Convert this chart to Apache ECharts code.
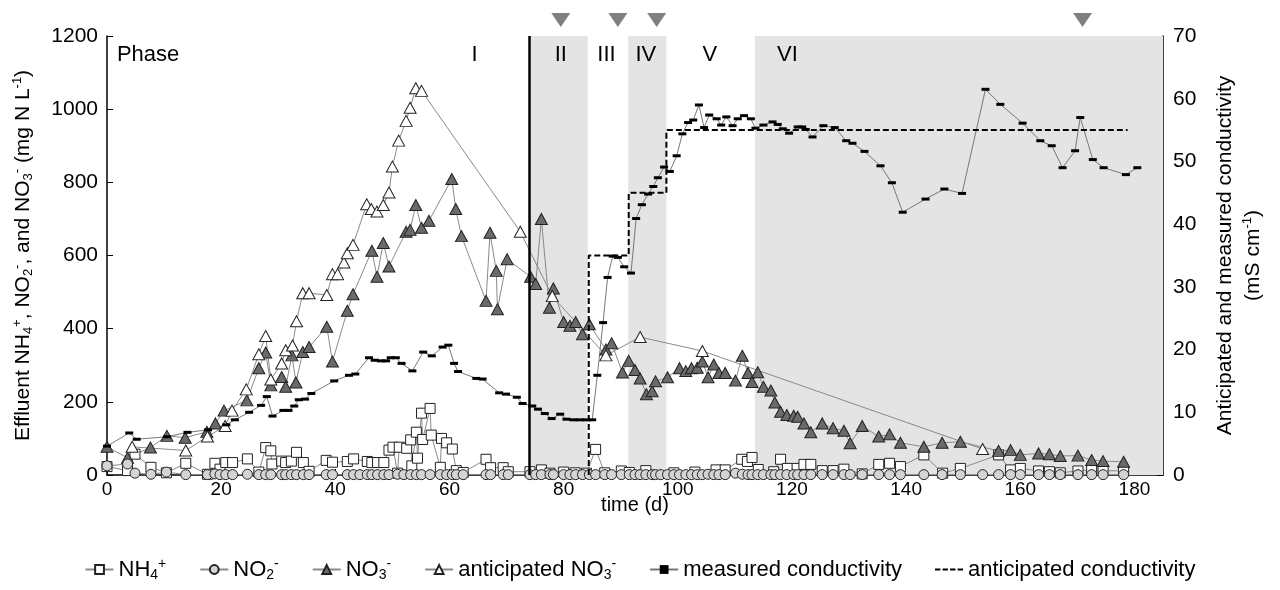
<!DOCTYPE html>
<html>
<head>
<meta charset="utf-8">
<script src="https://cdn.jsdelivr.net/npm/echarts@6/dist/echarts.min.js"></script>
<style>
html, body { margin: 0; padding: 0; background: #fff; }
#chart { width: 1280px; height: 590px; }
</style>
</head>
<body>
<div id="chart"></div>
<script>
// [day, mg N/L]
var nh4 = [[0,23],[3.6,12],[4.9,57],[7.7,21],[10.4,6],[13.8,32],[17.6,2],[18.9,32],[19.8,16],[20.8,34],[22,34],[24.6,44],[26.6,8],[27.8,75],[28.7,66],[28.9,30],[30.6,38],[31.3,34],[32.3,38],[33.2,62],[34.4,34],[35.4,10],[38.4,40],[39.5,35],[42.1,37],[43.2,44],[45.6,37],[46.4,34],[47.4,34],[48.5,34],[49.4,68],[50.1,76],[50.9,5],[51.2,76],[52.5,73],[53.2,96],[53.4,25],[54.2,117],[54.4,46],[55.1,169],[55.3,97],[56.6,182],[56.8,109],[58.4,21],[58.6,100],[59.5,88],[60.5,71],[61.2,12],[62.4,7],[66.4,43],[67.2,20],[69.4,20],[70.3,9],[74.1,9],[76.1,14],[77.6,5],[80,8],[82,6],[84,5],[85.6,70],[87.2,6],[90.1,11],[91.5,7],[94.4,12],[99.3,6],[103,8],[106.7,14],[108.3,14],[111.2,43],[112.2,37],[113,48],[114.1,15],[116.8,9],[118,43],[119.2,18],[120.9,18],[122.1,29],[123.3,29],[125.3,12],[127.2,12],[129.1,16],[132.3,3],[135.2,29],[137.1,32],[139,23],[143.1,55],[146.4,5],[149.5,18],[156.2,55],[158.3,14],[160,18],[163.2,11],[165.1,9],[167,6],[170.1,11],[172.5,14],[174.5,12],[178.1,11]];
var no2 = [[0,25],[3.6,30],[4.9,5],[7.7,2],[10.4,8],[13.8,1],[17.6,1],[18.9,3],[19.8,1],[20.8,1],[22,1],[24.6,2],[26.6,1],[27.8,1],[28.7,1],[30.6,1],[31.3,1],[32.3,1],[33.2,1],[34.4,1],[35.4,1],[38.4,1],[39.5,1],[42.1,1],[43.2,1],[44.3,1],[45.6,1],[46.4,1],[47.4,1],[48.5,1],[49.4,1],[50.9,2],[52,1],[53.2,1],[54.2,1],[55.1,1],[56.6,1],[58.4,1],[59.5,1],[60.5,1],[61.2,1],[62.4,1],[66.4,1],[67.2,1],[69.4,1],[70.3,1],[74.1,1],[75.1,1],[76.1,1],[77.6,1],[78.2,1],[80,1],[81.1,1],[82.1,1],[83.3,1],[84.5,1],[85.6,1],[87.2,1],[88.4,1],[90.1,1],[91.5,1],[92.5,1],[93.4,1],[94.4,1],[95.5,1],[96.1,1],[97,1],[98.2,1],[99.3,1],[100.3,1],[101.4,1],[102.4,1],[103.4,1],[104.3,1],[105.3,2],[106.3,1],[107.2,1],[108.3,1],[110.1,5],[111.3,2],[112.3,1],[113,1],[114,1],[115,1],[116.3,1],[117,1],[118,1],[119.1,1],[120.3,1],[121,1],[122.1,1],[123.3,1],[125.3,1],[127.2,1],[129.1,1],[130.2,1],[132.3,1],[135.2,1],[137.1,1],[139,1],[143.1,1],[146.3,1],[149.5,1],[153.4,1],[156.2,1],[158.3,1],[160,1],[163.2,1],[165.1,1],[167,1],[170.1,1],[172.5,1],[174.5,1],[178.1,1]];
var no3 = [[0,77],[3.6,47],[7.6,75],[10.5,107],[13.7,102],[17.5,118],[19,141],[20.5,176],[24.5,204],[26.6,292],[27.8,335],[28.7,245],[30.6,268],[31.3,241],[32.4,327],[33.1,253],[34.3,336],[35.4,350],[38.5,405],[39.5,310],[42.1,449],[43.1,494],[46.4,613],[47.3,542],[48.4,634],[49.4,570],[52.4,665],[53.1,670],[54.1,738],[55.1,676],[56.4,695],[60.4,809],[61.1,727],[62.1,653],[66.4,476],[67.1,662],[68.2,558],[68.4,453],[70.1,590],[74.2,542],[75.1,522],[76.1,700],[77.5,457],[78.2,510],[80,418],[81.1,408],[82.1,418],[83.3,385],[84.5,412],[87.4,343],[88.4,360],[90.3,280],[91.4,312],[92.5,287],[93.4,264],[94.5,221],[95.5,229],[96.1,256],[98.2,267],[100.3,292],[101.4,284],[102.4,292],[103.4,293],[104.3,310],[105.3,267],[106.3,302],[107.2,279],[108.3,279],[110.1,258],[111.3,326],[112.3,279],[113,254],[114,281],[115,241],[116.3,231],[117,198],[118,173],[119.1,164],[120.3,162],[121,159],[122.1,141],[123.3,117],[125.3,141],[127.2,128],[129.1,121],[130.2,87],[132.3,134],[135.2,105],[137.1,111],[139,88],[143.1,77],[146.3,88],[149.5,91],[156.2,66],[158.3,68],[160,55],[163.2,59],[165.1,57],[167,52],[170.1,53],[172.5,41],[174.5,38],[178.1,36]];
var antNo3 = [[4.4,77],[13.8,67],[17.6,105],[20.7,134],[21.9,176],[24.4,234],[26.6,330],[27.8,380],[28.7,261],[30.6,305],[31.3,341],[32.5,354],[33.2,420],[34.3,497],[35.4,497],[38.5,492],[39.5,549],[40.4,549],[41.5,581],[42.1,606],[43.1,629],[45.5,740],[46.3,727],[47.3,720],[48.4,738],[49.4,772],[50,843],[51.1,914],[52.4,968],[53.1,1004],[54.1,1057],[55.1,1050],[72.4,665],[78,489],[87.4,327],[93.4,377],[104.3,339],[153.4,71]];
// [day, mS/cm]
var condMeas = [[0,4.6],[3.9,6.7],[5.2,5.7],[10.5,6.1],[14.1,6.8],[17.7,7.2],[20.9,8.0],[22.4,8.8],[24.9,10.0],[27,11.1],[28,12.5],[29,9.4],[30.9,10.3],[31.8,10.3],[32.8,11.0],[33.6,12.0],[34.7,12.1],[35.8,13.0],[39.8,15.0],[42.4,15.9],[43.5,16.1],[45.9,18.7],[46.9,18.3],[48,18.2],[48.9,18.2],[49.7,18.7],[50.6,18.7],[51.6,17.8],[53.5,16.6],[55.4,19.6],[56.9,19.0],[58.8,20.4],[59.8,20.7],[60.8,17.8],[61.5,16.5],[64.7,15.4],[65.8,15.3],[68.7,13.1],[69.9,12.9],[71.8,12.4],[72.8,11.4],[74.5,11.0],[75.5,10.5],[76.7,9.8],[77.9,9.0],[79.4,9.7],[80.5,8.9],[81.7,8.8],[82.8,8.8],[84,8.8],[85,8.8],[85.9,15.9],[86.9,24.3],[87.7,31.5],[88.6,34.9],[89.5,34.7],[90.6,33.2],[91.8,32.2],[92.7,40.9],[93.7,43.1],[94.8,44.8],[95.7,46.0],[96.5,47.4],[97.6,49.1],[98.6,48.4],[99.8,50.9],[100.8,54.4],[101.8,56.2],[102.7,56.6],[103.7,59.0],[104.6,55.4],[105.5,57.4],[106.8,56.8],[107.6,55.8],[108.5,57.1],[109.6,55.7],[110.5,56.8],[111.6,57.3],[112.8,56.8],[113.6,55.3],[115,55.8],[116.6,56.3],[117.5,55.9],[118.4,55.2],[119.5,54.5],[121,55.5],[121.8,55.5],[122.4,55.1],[123.6,53.9],[125.5,55.7],[127.5,55.4],[129.5,53.3],[130.6,52.9],[132.7,51.6],[135.5,49.3],[137.5,46.6],[139.4,41.9],[143.4,44.0],[146.7,45.6],[149.8,44.9],[153.9,61.5],[156.5,59.1],[160.4,56.1],[163.5,53.3],[165.5,52.5],[167.4,49.0],[169.6,51.7],[170.5,57.0],[172.7,50.3],[174.6,49.0],[178.5,47.9],[180.5,49.0]];
var condAnt = [[84.4,0],[84.4,35],[91.4,35],[91.4,45],[98,45],[98,55],[178.8,55]];

var phaseNames = ['Phase', 'I', 'II', 'III', 'IV', 'V', 'VI'];
var phaseLabelX = [7.2, 64.4, 79.5, 87.5, 94.4, 105.6, 119.2];
var phaseLabelY = 1148;
var shadeStart = [74, 91.3, 113.5];
var shadeEnd = [84.2, 98, 185];
var phaseLine = 74;
var arrowDays = [79.5, 89.5, 96.3, 170.9];
var arrowY = 1244;

var xTicks = { min: 0, max: 185, interval: 20 };
var yTicks = { min: 0, max: 1200, interval: 200 };
var y2Ticks = { min: 0, max: 70, interval: 10 };

var font = 'Liberation Sans, Arial, sans-serif';
var lineGray = '#8a8a8a';

function richSet(size) {
    var small = Math.round(size * 0.62);
    return {
        t: { fontSize: size, fontFamily: font, color: '#000' },
        s: { fontSize: small, fontFamily: font, color: '#000', padding: [Math.round(size * 0.5), 0, 0, 0] },
        p: { fontSize: small, fontFamily: font, color: '#000', padding: [0, 0, Math.round(size * 0.5), 0] }
    };
}
var legendText = {
    'NH4+': '{t|NH}{s|4}{p|+}',
    'NO2-': '{t|NO}{s|2}{p|-}',
    'NO3-': '{t|NO}{s|3}{p|-}',
    'anticipated NO3-': '{t|anticipated NO}{s|3}{p|-}',
    'measured conductivity': '{t|measured conductivity}',
    'anticipated conductivity': '{t|anticipated conductivity}'
};

var phaseData = phaseNames.map(function (n, i) {
    return { name: n, value: [phaseLabelX[i], phaseLabelY] };
});
var shadeData = shadeStart.map(function (s, i) {
    return [{ xAxis: s }, { xAxis: shadeEnd[i] }];
});

var option = {
    animation: false,
    textStyle: { fontFamily: font },
    grid: { left: 107, right: 117, top: 36, bottom: 115, containLabel: false, outerBoundsMode: 'none' },
    legend: {
        bottom: 3,
        left: 'center',
        itemGap: 33,
        itemWidth: 28,
        itemHeight: 11,
        data: ['NH4+', 'NO2-', 'NO3-', 'anticipated NO3-', 'measured conductivity',
            { name: 'anticipated conductivity', icon: 'path://M0,0h5v2h-5z M7,0h5v2h-5z M14,0h5v2h-5z M21,0h5v2h-5z' }],
        formatter: function (name) { return legendText[name]; },
        textStyle: { fontSize: 22, color: '#000', rich: richSet(22) }
    },
    xAxis: {
        type: 'value',
        min: xTicks.min, max: xTicks.max, interval: xTicks.interval,
        name: 'time (d)',
        nameLocation: 'middle',
        nameGap: 20,
        nameMoveOverlap: false,
        nameTextStyle: { fontSize: 20, color: '#000' },
        axisLine: { lineStyle: { color: '#000', width: 1.5 } },
        axisTick: { inside: true, length: 6, lineStyle: { color: '#000' } },
        axisLabel: { fontSize: 19, color: '#000', margin: 5, showMaxLabel: false },
        splitLine: { show: false }
    },
    yAxis: [{
        type: 'value',
        min: yTicks.min, max: yTicks.max, interval: yTicks.interval,
        name: '{t|Effluent NH}{s|4}{p|+}{t|, NO}{s|2}{p|-}{t|, and NO}{s|3}{p|-}{t| (mg N L}{p|-1}{t|)}',
        nameLocation: 'middle',
        nameRotate: 90,
        nameGap: 72,
        nameTextStyle: { rich: richSet(21) },
        axisLine: { show: true, lineStyle: { color: '#000', width: 1.5 } },
        axisTick: { show: true, inside: true, length: 6, lineStyle: { color: '#000' } },
        axisLabel: { fontSize: 21, color: '#000', margin: 9, formatter: function (v) { return String(v); } },
        splitLine: { show: false }
    }, {
        type: 'value',
        min: y2Ticks.min, max: y2Ticks.max, interval: y2Ticks.interval,
        name: '{t|Anticipated and measured conductivity}\n{t|(mS cm}{p|-1}{t|)}',
        nameLocation: 'middle',
        nameRotate: 90,
        nameGap: 48,
        nameTextStyle: { rich: richSet(21), lineHeight: 28 },
        position: 'right',
        axisLine: { show: true, lineStyle: { color: '#000', width: 1.5 } },
        axisTick: { show: true, inside: true, length: 6, lineStyle: { color: '#000' } },
        axisLabel: { fontSize: 21, color: '#000', margin: 10 },
        splitLine: { show: false }
    }],
    series: [{
        name: 'phases',
        type: 'scatter',
        data: phaseData,
        symbolSize: 0,
        silent: true,
        itemStyle: { opacity: 1 },
        label: {
            show: true,
            position: 'inside',
            formatter: '{b}',
            fontSize: 22,
            color: '#000',
            opacity: 1
        },
        markArea: {
            silent: true,
            itemStyle: { color: '#e4e4e4' },
            data: shadeData
        },
        markLine: {
            silent: true,
            symbol: 'none',
            label: { show: false },
            lineStyle: { color: '#000', width: 2.5, type: 'solid' },
            data: [{ xAxis: phaseLine }]
        },
        z: 1
    }, {
        name: 'arrows',
        type: 'scatter',
        data: arrowDays.map(function (d) { return [d, arrowY]; }),
        symbol: 'triangle',
        symbolRotate: 180,
        symbolSize: [19, 14],
        itemStyle: { color: '#808080', opacity: 1 },
        clip: false,
        silent: true
    }, {
        name: 'NH4+',
        type: 'line',
        data: nh4,
        symbol: 'rect',
        symbolSize: 10,
        lineStyle: { color: lineGray, width: 1 },
        itemStyle: { color: '#fff', borderColor: '#222', borderWidth: 1 },
        z: 3
    }, {
        name: 'NO2-',
        type: 'line',
        data: no2,
        symbol: 'circle',
        symbolSize: 10,
        lineStyle: { color: lineGray, width: 1 },
        itemStyle: { color: '#d4d4d4', borderColor: '#222', borderWidth: 1 },
        z: 4
    }, {
        name: 'NO3-',
        type: 'line',
        data: no3,
        symbol: 'triangle',
        symbolSize: [12, 11],
        lineStyle: { color: lineGray, width: 1 },
        itemStyle: { color: '#6a6a6a', borderColor: '#222', borderWidth: 1 },
        z: 3
    }, {
        name: 'anticipated NO3-',
        type: 'line',
        data: antNo3,
        symbol: 'triangle',
        symbolSize: [12, 11],
        lineStyle: { color: lineGray, width: 1 },
        itemStyle: { color: '#fff', borderColor: '#222', borderWidth: 1 },
        z: 3
    }, {
        name: 'measured conductivity',
        type: 'line',
        yAxisIndex: 1,
        data: condMeas,
        symbol: 'rect',
        symbolSize: [8, 3],
        lineStyle: { color: '#777', width: 1 },
        itemStyle: { color: '#000' },
        z: 3
    }, {
        name: 'anticipated conductivity',
        type: 'line',
        yAxisIndex: 1,
        data: condAnt,
        symbol: 'none',
        lineStyle: { color: '#000', width: 2, type: [6, 3] },
        itemStyle: { color: '#000' },
        z: 5
    }]
};

var myChart = echarts.init(document.getElementById('chart'));
myChart.setOption(option);
window.addEventListener('resize', function () {
    myChart.resize();
});
</script>
</body>
</html>
